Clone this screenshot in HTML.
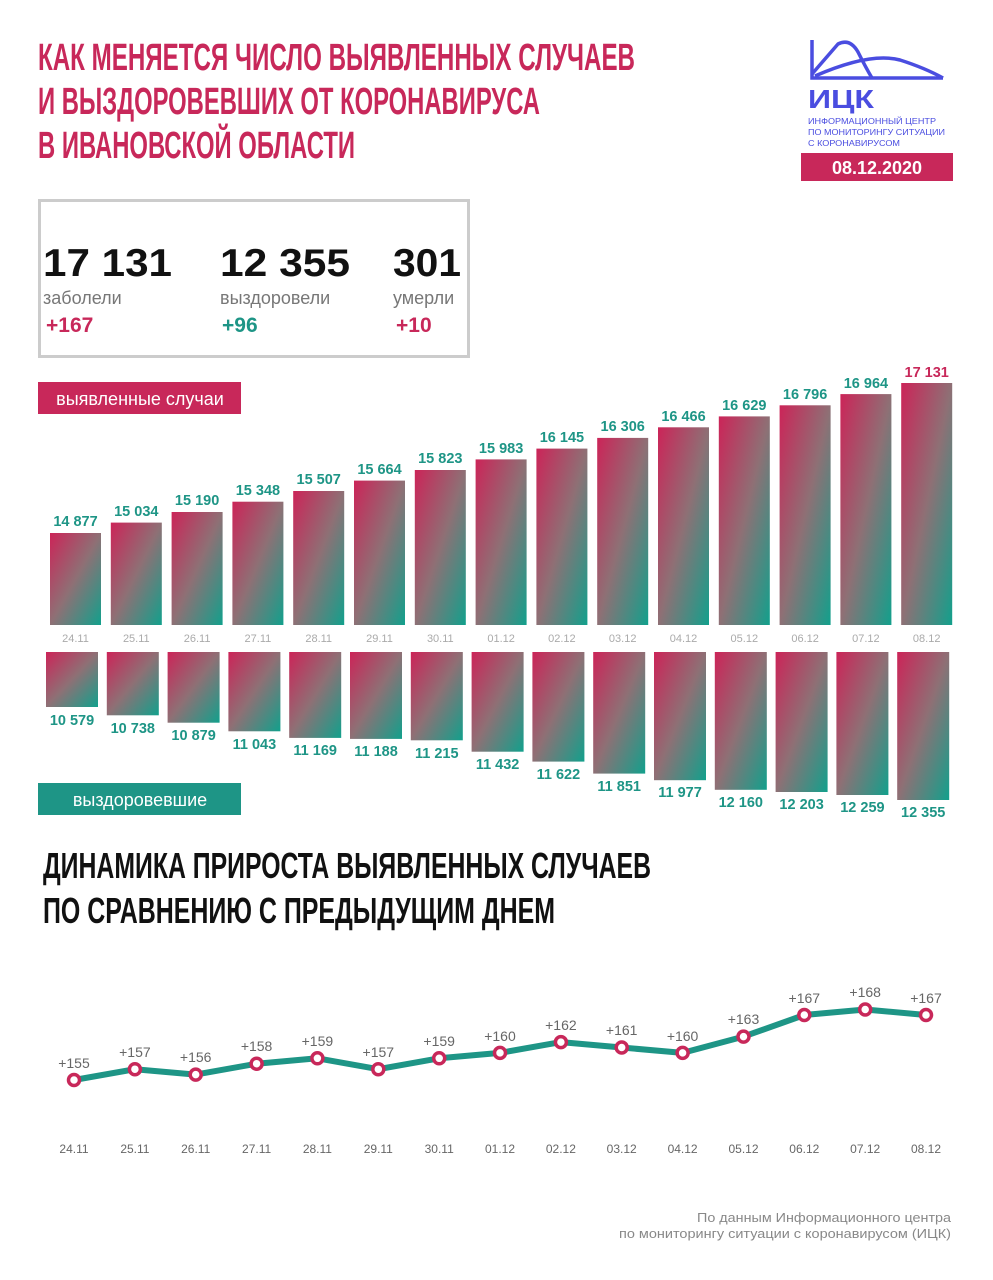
<!DOCTYPE html>
<html><head><meta charset="utf-8"><style>
body{margin:0;background:#fff;}
svg{display:block}
.t{font-family:"Liberation Sans Narrow","Liberation Sans",sans-serif;font-weight:bold;fill:#c8285a}
.h{font-family:"Liberation Sans Narrow","Liberation Sans",sans-serif;font-weight:bold;fill:#111}
.v{font-family:"Liberation Sans",sans-serif;font-weight:bold;font-size:14.5px;fill:#1e9586;text-anchor:middle}
.d{font-family:"Liberation Sans",sans-serif;font-size:11px;fill:#aaa;text-anchor:middle}
.l{font-family:"Liberation Sans Narrow","Liberation Sans",sans-serif;font-size:14px;fill:#666;text-anchor:middle}
.ld{font-family:"Liberation Sans Narrow","Liberation Sans",sans-serif;font-size:12px;fill:#666;text-anchor:middle}
</style></head><body>
<svg width="993" height="1280" viewBox="0 0 993 1280">
<defs>
<linearGradient id="g" x1="0" y1="0" x2="1" y2="1"><stop offset="0" stop-color="#cc2458"/><stop offset="0.5" stop-color="#8e7075"/><stop offset="1" stop-color="#12a08c"/></linearGradient>
</defs>
<text class="t" x="38" y="70" font-size="38" textLength="597" lengthAdjust="spacingAndGlyphs">КАК МЕНЯЕТСЯ ЧИСЛО ВЫЯВЛЕННЫХ СЛУЧАЕВ</text>
<text class="t" x="38" y="114" font-size="38" textLength="502" lengthAdjust="spacingAndGlyphs">И ВЫЗДОРОВЕВШИХ ОТ КОРОНАВИРУСА</text>
<text class="t" x="38" y="158" font-size="38" textLength="317" lengthAdjust="spacingAndGlyphs">В ИВАНОВСКОЙ ОБЛАСТИ</text>
<!-- logo -->
<g fill="none" stroke="#4a4de0" stroke-width="3.5">
<path d="M812 40 V78 H943"/>
<path d="M812 74 L838 44 Q850 38 858 52 Q866 68 872 78"/>
<path d="M815 76 Q870 52 900 60 Q925 68 943 78"/>
</g>
<text x="808" y="108" font-family="Liberation Sans" font-weight="bold" font-size="26" fill="#4a4de0" textLength="66" lengthAdjust="spacingAndGlyphs">ИЦК</text>
<g font-family="Liberation Sans Narrow,Liberation Sans" font-size="8.5" fill="#4a4de0">
<text x="808" y="124" textLength="128" lengthAdjust="spacingAndGlyphs">ИНФОРМАЦИОННЫЙ ЦЕНТР</text>
<text x="808" y="135" textLength="137" lengthAdjust="spacingAndGlyphs">ПО МОНИТОРИНГУ СИТУАЦИИ</text>
<text x="808" y="146" textLength="92" lengthAdjust="spacingAndGlyphs">С КОРОНАВИРУСОМ</text>
</g>
<rect x="801" y="153" width="152" height="28" fill="#c8285a"/>
<text x="877" y="174" font-family="Liberation Sans Narrow,Liberation Sans" font-weight="bold" font-size="18" fill="#fff" text-anchor="middle">08.12.2020</text>
<!-- box -->
<rect x="39.5" y="200.5" width="429" height="156" fill="none" stroke="#ccc" stroke-width="3"/>
<g font-family="Liberation Sans" font-weight="bold" font-size="39" fill="#111">
<text x="43" y="276" textLength="129" lengthAdjust="spacingAndGlyphs">17 131</text>
<text x="220" y="276" textLength="130" lengthAdjust="spacingAndGlyphs">12 355</text>
<text x="393" y="276" textLength="68" lengthAdjust="spacingAndGlyphs">301</text>
</g>
<g font-family="Liberation Sans" font-size="18" fill="#777">
<text x="43" y="304">заболели</text><text x="220" y="304">выздоровели</text><text x="393" y="304">умерли</text>
</g>
<g font-family="Liberation Sans" font-weight="bold" font-size="21">
<text x="46" y="332" fill="#c8285a">+167</text><text x="222" y="332" fill="#1e9586">+96</text><text x="396" y="332" fill="#c8285a">+10</text>
</g>
<rect x="38" y="382" width="203" height="32" fill="#c8285a"/>
<text x="140" y="405" font-family="Liberation Sans" font-size="18" fill="#fff" text-anchor="middle">выявленные случаи</text>
<rect x="38" y="783" width="203" height="32" fill="#1e9586"/>
<text x="140" y="806" font-family="Liberation Sans" font-size="18" fill="#fff" text-anchor="middle">выздоровевшие</text>
<!-- top bars -->
<g fill="url(#g)">
<rect x="50" y="533" width="51" height="92"/>
<rect x="110.8" y="522.6" width="51" height="102.4"/>
<rect x="171.6" y="512" width="51" height="113"/>
<rect x="232.4" y="501.7" width="51" height="123.3"/>
<rect x="293.2" y="491" width="51" height="134"/>
<rect x="354" y="480.6" width="51" height="144.4"/>
<rect x="414.8" y="470" width="51" height="155"/>
<rect x="475.6" y="459.4" width="51" height="165.6"/>
<rect x="536.4" y="448.6" width="51" height="176.4"/>
<rect x="597.2" y="437.9" width="51" height="187.1"/>
<rect x="658" y="427.3" width="51" height="197.7"/>
<rect x="718.8" y="416.4" width="51" height="208.6"/>
<rect x="779.6" y="405.3" width="51" height="219.7"/>
<rect x="840.4" y="394.1" width="51" height="230.9"/>
<rect x="901.2" y="383" width="51" height="242"/>
</g>
<g class="v">
<text x="75.5" y="526">14 877</text><text x="136.3" y="516">15 034</text><text x="197.1" y="505">15 190</text>
<text x="257.9" y="495">15 348</text><text x="318.7" y="484">15 507</text><text x="379.5" y="474">15 664</text>
<text x="440.3" y="463">15 823</text><text x="501.1" y="453">15 983</text><text x="561.9" y="442">16 145</text>
<text x="622.7" y="431">16 306</text><text x="683.5" y="421">16 466</text><text x="744.3" y="410">16 629</text>
<text x="805.1" y="399">16 796</text><text x="865.9" y="388">16 964</text><text x="926.7" y="377" fill="#c8285a">17 131</text>
</g>
<g class="d">
<text x="75.5" y="642">24.11</text><text x="136.3" y="642">25.11</text><text x="197.1" y="642">26.11</text>
<text x="257.9" y="642">27.11</text><text x="318.7" y="642">28.11</text><text x="379.5" y="642">29.11</text>
<text x="440.3" y="642">30.11</text><text x="501.1" y="642">01.12</text><text x="561.9" y="642">02.12</text>
<text x="622.7" y="642">03.12</text><text x="683.5" y="642">04.12</text><text x="744.3" y="642">05.12</text>
<text x="805.1" y="642">06.12</text><text x="865.9" y="642">07.12</text><text x="926.7" y="642">08.12</text>
</g>
<!-- bottom bars -->
<g fill="url(#g)">
<rect x="46" y="652" width="52" height="55"/>
<rect x="106.8" y="652" width="52" height="63.3"/>
<rect x="167.6" y="652" width="52" height="70.7"/>
<rect x="228.4" y="652" width="52" height="79.3"/>
<rect x="289.2" y="652" width="52" height="85.9"/>
<rect x="350" y="652" width="52" height="86.9"/>
<rect x="410.8" y="652" width="52" height="88.3"/>
<rect x="471.6" y="652" width="52" height="99.7"/>
<rect x="532.4" y="652" width="52" height="109.6"/>
<rect x="593.2" y="652" width="52" height="121.6"/>
<rect x="654" y="652" width="52" height="128.2"/>
<rect x="714.8" y="652" width="52" height="137.8"/>
<rect x="775.6" y="652" width="52" height="140"/>
<rect x="836.4" y="652" width="52" height="143"/>
<rect x="897.2" y="652" width="52" height="148"/>
</g>
<g class="v">
<text x="72" y="725">10 579</text><text x="132.8" y="733">10 738</text><text x="193.6" y="740">10 879</text>
<text x="254.4" y="749">11 043</text><text x="315.2" y="755">11 169</text><text x="376" y="756">11 188</text>
<text x="436.8" y="758">11 215</text><text x="497.6" y="769">11 432</text><text x="558.4" y="779">11 622</text>
<text x="619.2" y="791">11 851</text><text x="680" y="797">11 977</text><text x="740.8" y="807">12 160</text>
<text x="801.6" y="809">12 203</text><text x="862.4" y="812">12 259</text><text x="923.2" y="817">12 355</text>
</g>
<!-- second title -->
<text class="h" x="43" y="878" font-size="36" textLength="608" lengthAdjust="spacingAndGlyphs">ДИНАМИКА ПРИРОСТА ВЫЯВЛЕННЫХ СЛУЧАЕВ</text>
<text class="h" x="43" y="923" font-size="36" textLength="512" lengthAdjust="spacingAndGlyphs">ПО СРАВНЕНИЮ С ПРЕДЫДУЩИМ ДНЕМ</text>
<!-- line -->
<polyline fill="none" stroke="#1e9586" stroke-width="6" stroke-linejoin="round" points="74,1080 134.9,1069.2 195.7,1074.6 256.6,1063.7 317.4,1058.3 378.3,1069.2 439.2,1058.3 500,1052.9 560.9,1042.1 621.7,1047.5 682.6,1052.9 743.5,1036.6 804.3,1015 865.2,1009.5 926,1015"/>
<g fill="#fff" stroke="#c8285a" stroke-width="3.5">
<circle cx="74" cy="1080" r="5.5"/><circle cx="134.9" cy="1069.2" r="5.5"/><circle cx="195.7" cy="1074.6" r="5.5"/>
<circle cx="256.6" cy="1063.7" r="5.5"/><circle cx="317.4" cy="1058.3" r="5.5"/><circle cx="378.3" cy="1069.2" r="5.5"/>
<circle cx="439.2" cy="1058.3" r="5.5"/><circle cx="500" cy="1052.9" r="5.5"/><circle cx="560.9" cy="1042.1" r="5.5"/>
<circle cx="621.7" cy="1047.5" r="5.5"/><circle cx="682.6" cy="1052.9" r="5.5"/><circle cx="743.5" cy="1036.6" r="5.5"/>
<circle cx="804.3" cy="1015" r="5.5"/><circle cx="865.2" cy="1009.5" r="5.5"/><circle cx="926" cy="1015" r="5.5"/>
</g>
<g class="l">
<text x="74" y="1068">+155</text><text x="134.9" y="1057">+157</text><text x="195.7" y="1062">+156</text>
<text x="256.6" y="1051">+158</text><text x="317.4" y="1046">+159</text><text x="378.3" y="1057">+157</text>
<text x="439.2" y="1046">+159</text><text x="500" y="1041">+160</text><text x="560.9" y="1030">+162</text>
<text x="621.7" y="1035">+161</text><text x="682.6" y="1041">+160</text><text x="743.5" y="1024">+163</text>
<text x="804.3" y="1003">+167</text><text x="865.2" y="997">+168</text><text x="926" y="1003">+167</text>
</g>
<g class="ld">
<text x="74" y="1153">24.11</text><text x="134.9" y="1153">25.11</text><text x="195.7" y="1153">26.11</text>
<text x="256.6" y="1153">27.11</text><text x="317.4" y="1153">28.11</text><text x="378.3" y="1153">29.11</text>
<text x="439.2" y="1153">30.11</text><text x="500" y="1153">01.12</text><text x="560.9" y="1153">02.12</text>
<text x="621.7" y="1153">03.12</text><text x="682.6" y="1153">04.12</text><text x="743.5" y="1153">05.12</text>
<text x="804.3" y="1153">06.12</text><text x="865.2" y="1153">07.12</text><text x="926" y="1153">08.12</text>
</g>
<g font-family="Liberation Sans Narrow,Liberation Sans" font-size="13" fill="#888">
<text x="697" y="1222" textLength="254" lengthAdjust="spacingAndGlyphs">По данным Информационного центра</text>
<text x="619" y="1238" textLength="332" lengthAdjust="spacingAndGlyphs">по мониторингу ситуации с коронавирусом (ИЦК)</text>
</g>
</svg>
</body></html>
